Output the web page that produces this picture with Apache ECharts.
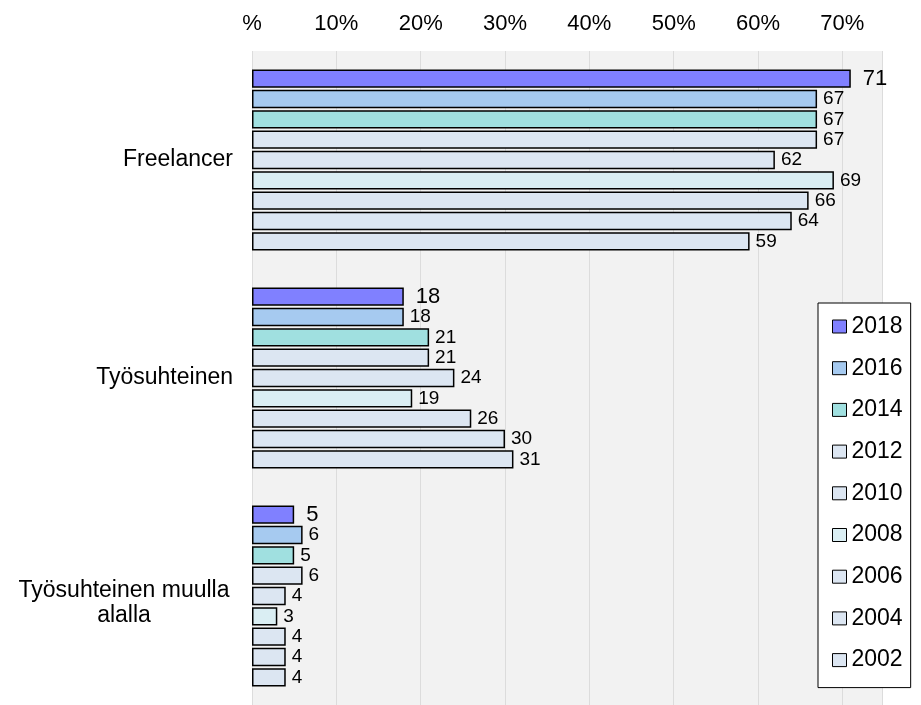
<!DOCTYPE html>
<html><head><meta charset="utf-8">
<script src="https://cdn.jsdelivr.net/npm/echarts@6/dist/echarts.min.js"></script>
<style>html,body{margin:0;padding:0;background:#fff}#c{width:921px;height:705px}</style>
</head><body><div id="c"></div>
<script>
const categories = ['Freelancer', 'Työsuhteinen', 'Työsuhteinen muulla\nalalla'];
const years = ['2018','2016','2014','2012','2010','2008','2006','2004','2002'];
const v2018 = [71, 18, 5];
const v2016 = [67, 18, 6];
const v2014 = [67, 21, 5];
const v2012 = [67, 21, 6];
const v2010 = [62, 24, 4];
const v2008 = [69, 19, 3];
const v2006 = [66, 26, 4];
const v2004 = [64, 30, 4];
const v2002 = [59, 31, 4];
const tickLabels = ['%', '10%', '20%', '30%', '40%', '50%', '60%', '70%'];

const values = [v2018, v2016, v2014, v2012, v2010, v2008, v2006, v2004, v2002];
const colors = ['#8080ff','#a6caf0','#a0e0e0','#dce6f2','#dce6f2','#daeef3','#dce6f2','#dce6f2','#dce6f2'];
const FONT = '"Liberation Sans", Arial, sans-serif';

const series = years.map((y, i) => ({
  name: y,
  type: 'bar',
  data: values[i],
  barCategoryGap: '17%',
  barGap: '11%',
  itemStyle: { color: colors[i], borderColor: '#000', borderWidth: 1.5 },
  label: {
    show: true, position: 'right', distance: i === 0 ? 12 : 6,
    color: '#000', fontFamily: FONT, fontSize: i === 0 ? 22 : 19
  }
}));

const chart = echarts.init(document.getElementById('c'));
chart.setOption({
  animation: false,
  textStyle: { fontFamily: FONT },
  grid: { left: 252, top: 51, width: 630, height: 660, show: true, backgroundColor: '#f2f2f2', borderWidth: 0 },
  legend: {
    orient: 'vertical', left: 818, top: 303,
    padding: [12, 8, 16, 14], itemGap: 18.7,
    backgroundColor: '#fff', borderColor: '#000', borderWidth: 1,
    icon: 'rect', itemWidth: 14, itemHeight: 13,
    itemStyle: { borderColor: '#000', borderWidth: 1 },
    textStyle: { fontSize: 23, color: '#000', fontFamily: FONT },
    data: years
  },
  xAxis: {
    type: 'value', position: 'top', min: 0, max: 74.7, interval: 10,
    axisLine: { show: false }, axisTick: { show: false },
    splitLine: { show: true, lineStyle: { color: '#dcdcdc', width: 1 } },
    axisLabel: {
      margin: 16, fontSize: 22, color: '#000', fontFamily: FONT, showMaxLabel: false,
      formatter: (v) => tickLabels[Math.round(v / 10)] || ''
    }
  },
  yAxis: {
    type: 'category', data: categories, inverse: true,
    axisLine: { show: false }, axisTick: { show: false },
    axisLabel: {
      margin: 19, fontSize: 23, color: '#000', fontFamily: FONT, lineHeight: 25,
      formatter: (v) => v.indexOf('\n') >= 0
        ? '{e| }\n' + v.split('\n').map(s => '{c|' + s + '}').join('\n')
        : v,
      rich: {
        e: { fontSize: 10, lineHeight: 15 },
        c: { width: 218, align: 'center', fontSize: 23, lineHeight: 25, fontFamily: FONT, color: '#000' }
      }
    }
  },
  series: series
});
</script></body></html>
